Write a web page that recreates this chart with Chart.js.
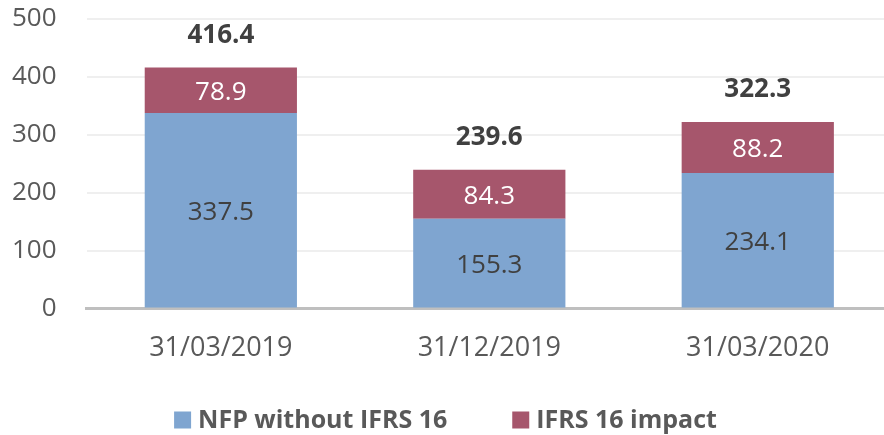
<!DOCTYPE html>
<html>
<head>
<meta charset="utf-8">
<script src="https://cdn.jsdelivr.net/npm/chart.js@4"></script>
<style>
  html, body { margin: 0; padding: 0; background: #fff; overflow: hidden; }
  #wrap { width: 884px; height: 435px; overflow: hidden; }
</style>
</head>
<body>
<div id="wrap"><canvas id="nfp" width="892" height="435"></canvas></div>
<script>
const categories = ['31/03/2019', '31/12/2019', '31/03/2020'];
const nfpWithout = [337.5, 155.3, 234.1];
const ifrsImpact = [78.9, 84.3, 88.2];
const totals = [416.4, 239.6, 322.3];
const yTicks = [0, 100, 200, 300, 400, 500];

const FONT = '"Open Sans", "Liberation Sans", sans-serif';
const TEXT = '#595959';
const DARK = '#404040';

// values inside the segments, totals above, and the legend row
const barLabels = {
  id: 'barLabels',
  afterDatasetsDraw(chart) {
    const ctx = chart.ctx;
    ctx.save();
    ctx.textAlign = 'center';
    ctx.textBaseline = 'middle';
    ctx.font = '26px ' + FONT;
    chart.data.datasets.forEach((ds, i) => {
      const meta = chart.getDatasetMeta(i);
      meta.data.forEach((bar, j) => {
        const mid = (bar.y + bar.base) / 2;
        ctx.fillStyle = i === 0 ? DARK : '#ffffff';
        ctx.fillText(ds.data[j].toFixed(1), bar.x, mid + 2);
      });
    });
    const top = chart.getDatasetMeta(1);
    ctx.font = 'bold 26px ' + FONT;
    ctx.fillStyle = DARK;
    top.data.forEach((bar, j) => {
      ctx.fillText(totals[j].toFixed(1), bar.x, bar.y - 32);
    });

    // legend
    ctx.font = 'bold 25px ' + FONT;
    ctx.textAlign = 'left';
    const box = 17, gapText = 7, gapItem = 65;
    const items = chart.data.datasets.map(ds => ({
      text: ds.label, color: ds.backgroundColor, w: ctx.measureText(ds.label).width
    }));
    let total = 0;
    items.forEach((it, k) => { total += box + gapText + it.w + (k ? gapItem : 0); });
    let x = 445.5 - total / 2;
    const y = 420;
    items.forEach(it => {
      ctx.fillStyle = it.color;
      ctx.fillRect(x, y - box / 2, box, box);
      x += box + gapText;
      ctx.fillStyle = TEXT;
      ctx.fillText(it.text, x, y + 1);
      x += it.w + gapItem;
    });
    ctx.restore();
  }
};

new Chart(document.getElementById('nfp').getContext('2d'), {
  type: 'bar',
  data: {
    labels: categories,
    datasets: [
      {
        label: 'NFP without IFRS 16',
        data: nfpWithout,
        backgroundColor: '#7FA5D0',
        categoryPercentage: 0.567,
        barPercentage: 1
      },
      {
        label: 'IFRS 16 impact',
        data: ifrsImpact,
        backgroundColor: '#A6566C',
        categoryPercentage: 0.567,
        barPercentage: 1
      }
    ]
  },
  options: {
    responsive: false,
    animation: false,
    layout: { padding: { top: 0, right: 0, left: -18, bottom: 46 } },
    scales: {
      x: {
        stacked: true,
        grid: { display: false, drawTicks: false },
        border: { color: '#bfbfbf', width: 3 },
        ticks: {
          color: TEXT,
          padding: 24,
          font: { family: FONT, size: 27 }
        }
      },
      y: {
        stacked: true,
        min: 0,
        max: 500,
        afterBuildTicks: (axis) => { axis.ticks = yTicks.map(v => ({ value: v })); },
        // tick padding would otherwise be added above the plot too
        afterFit: (axis) => { axis.paddingTop = 19; axis.paddingBottom = 16; },
        grid: { color: '#efefef', lineWidth: 2, drawTicks: false },
        border: { display: false },
        ticks: {
          color: TEXT,
          padding: 30,
          font: { family: FONT, size: 26 }
        }
      }
    },
    plugins: {
      legend: { display: false },
      tooltip: { enabled: false }
    }
  },
  plugins: [barLabels]
});
</script>
</body>
</html>
